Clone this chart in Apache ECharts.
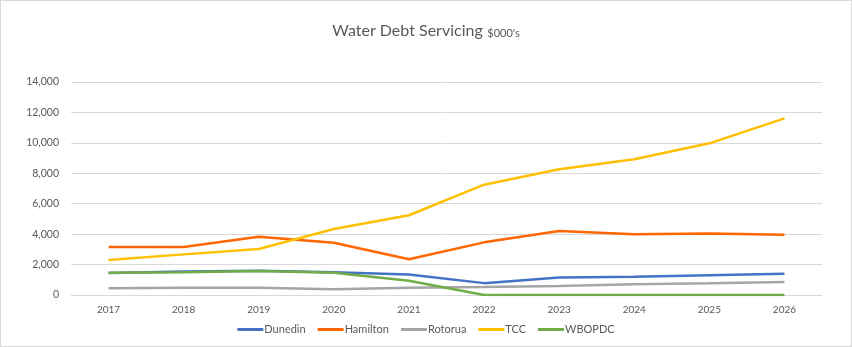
<!DOCTYPE html>
<html>
<head>
<meta charset="utf-8">
<script src="https://cdn.jsdelivr.net/npm/echarts@6/dist/echarts.min.js"></script>
<style>
  html, body { margin: 0; padding: 0; background: #fff; }
  #chart { width: 850px; height: 345px; border: 1px solid #d9d9d9; }
</style>
</head>
<body>
<div id="chart"></div>
<script>
const years = ['2017', '2018', '2019', '2020', '2021', '2022', '2023', '2024', '2025', '2026']
const dunedin = [1450, 1550, 1600, 1500, 1350, 780, 1150, 1200, 1300, 1400]
const hamilton = [3150, 3150, 3830, 3440, 2350, 3460, 4210, 3990, 4050, 3960]
const rotorua = [440, 470, 470, 370, 480, 530, 590, 700, 770, 850]
const tcc = [2300, 2670, 3020, 4340, 5240, 7250, 8260, 8920, 9970, 11610]
const wbopdc = [1470, 1500, 1580, 1460, 940, 0, 0, 0, 0, 0]

const seriesDefs = [
  { name: 'Dunedin', data: dunedin, color: '#4472c4' },
  { name: 'Hamilton', data: hamilton, color: '#ff6600' },
  { name: 'Rotorua', data: rotorua, color: '#a5a5a5' },
  { name: 'TCC', data: tcc, color: '#ffc000' },
  { name: 'WBOPDC', data: wbopdc, color: '#70ad47' }
]

const chart = echarts.init(document.getElementById('chart'))
const font = 'Lato, "Open Sans", sans-serif'

chart.setOption({
  animation: false,
  textStyle: { fontFamily: font },
  title: {
    text: '{a|Water Debt Servicing} {b|$000\'s}',
    left: 'center',
    top: 16,
    textStyle: {
      fontWeight: 'normal',
      rich: {
        a: { fontSize: 16, color: '#595959', fontFamily: font, fontWeight: 'normal' },
        b: { fontSize: 11, color: '#595959', fontFamily: font, fontWeight: 'normal', padding: [4, 0, 0, 0] }
      }
    }
  },
  legend: {
    bottom: 6,
    left: 'center',
    itemWidth: 26,
    itemHeight: 3,
    itemGap: 12,
    icon: 'rect',
    textStyle: { fontSize: 11, color: '#595959', padding: [0, 0, 0, -4] },
    data: seriesDefs.map(s => s.name)
  },
  grid: { left: 70, right: 29, top: 81, bottom: 51 },
  xAxis: {
    type: 'category',
    data: years,
    axisLine: { lineStyle: { color: '#d9d9d9' } },
    axisTick: { show: false },
    axisLabel: { color: '#595959', fontSize: 10, margin: 10 }
  },
  yAxis: {
    type: 'value',
    min: 0,
    max: 14000,
    interval: 2000,
    axisLine: { show: false },
    axisTick: { show: false },
    splitLine: { lineStyle: { color: '#d9d9d9' } },
    axisLabel: {
      color: '#595959',
      fontSize: 10.5,
      margin: 12,
      formatter: v => v.toLocaleString('en-US')
    }
  },
  series: seriesDefs.map(s => ({
    name: s.name,
    type: 'line',
    data: s.data,
    symbol: 'none',
    color: s.color,
    lineStyle: { width: 2.5, color: s.color }
  }))
})
</script>
</body>
</html>
